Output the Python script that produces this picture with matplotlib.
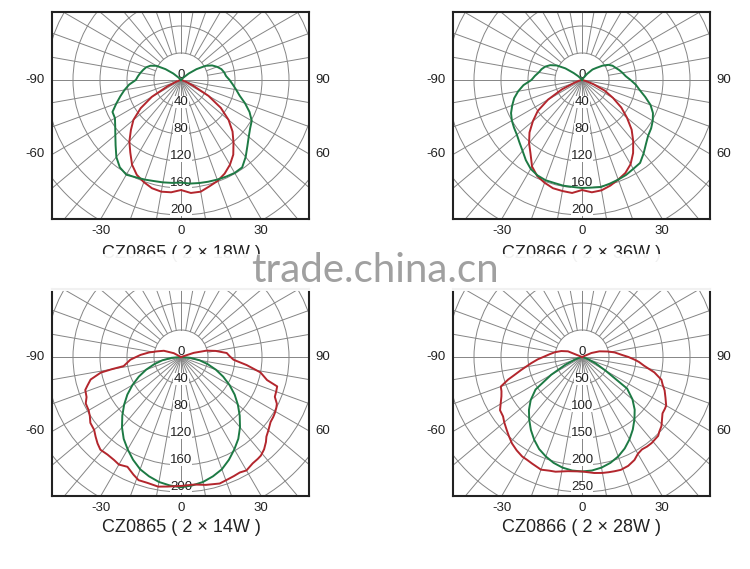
import numpy as np
import matplotlib
matplotlib.use("Agg")
import matplotlib.pyplot as plt
from matplotlib.patches import Circle, Rectangle

plt.rcParams['font.family'] = ['Liberation Sans', 'Noto Sans CJK SC', 'DejaVu Sans']

W, H = 750, 569

# ---- data (angle from nadir in degrees, intensity in cd) ----
tl_red_ang = [-90, -80, -70, -65, -60, -55, -50, -45, -40, -35, -30, -25, -20, -15, -10, -5, 0,
              5, 10, 15, 20, 25, 30, 35, 40, 45, 50, 55, 60, 65, 70, 80, 90]
tl_red_val = [0, 2, 8, 22, 50, 73, 92, 105, 119, 131, 145, 155, 161, 166, 168, 167, 163,
              168, 168, 163, 159, 153, 145, 135, 121, 108, 92, 72, 47, 20, 9, 2, 0]

tl_green_ang = list(range(-140, 141, 5))
tl_green_val = [0, 5, 15, 28, 42, 50, 55, 58, 61, 64, 67, 77, 85, 93, 102, 112, 113, 119, 127, 137,
                149, 158, 162, 159, 157, 155, 154, 153,
                152,
                154, 155, 156, 157, 158, 159, 158, 149, 139, 131, 125, 121, 112, 101, 90, 83, 77, 72,
                67, 65, 62, 57, 51, 42, 28, 15, 5, 0]

tr_red_ang = list(range(-90, 91, 5))
tr_red_val = [0, 1, 2, 5, 12, 33, 58, 80, 95, 110, 122, 133, 148, 157, 162, 166, 167, 168,
              163,
              167, 166, 162, 157, 152, 144, 132, 118, 104, 87, 71, 53, 37, 18, 6, 2, 1, 0]

tr_green_ang = list(range(-150, 151, 5))
tr_green_val = [0, 0, 3, 8, 16, 30, 43, 52, 58, 62, 65, 70, 75, 87, 96, 104, 110, 116, 120, 123,
                126, 131, 137, 145, 152, 156, 158, 158, 159, 159,
                160,
                160, 161, 159, 157, 155, 152, 150, 142, 134, 128, 125, 121, 116, 108, 97, 87, 80,
                72, 65, 61, 57, 53, 50, 45, 37, 28, 22, 12, 4, 0]

bl_green_ang = list(range(-90, 91, 5))
bl_green_val = [0, 14, 28, 41, 55, 69, 83, 97, 110, 123, 136, 148, 158, 168, 177, 183, 188, 191,
                193,
                191, 188, 183, 177, 168, 158, 148, 136, 123, 110, 97, 83, 69, 55, 41, 28, 14, 0]

bl_red_ang = [-122, -118, -110, -103, -98, -93, -87, -81, -80, -79, -76, -73, -71, -67, -64, -60,
              -57, -54, -50, -47, -44, -41, -37, -33, -30, -26, -22, -19, -15, -10, -6, 0,
              6, 11, 17, 21, 24, 27, 30, 34, 37, 39, 42, 45, 47, 50, 54, 57, 59, 62, 64, 67,
              70, 73, 75, 79, 83, 87, 91, 95, 100, 104, 108, 112]
bl_red_val = [0, 12, 27, 37, 48, 60, 75, 86, 104, 121, 138, 145, 150, 152, 157, 158,
              161, 166, 168, 173, 178, 182, 181, 182, 184, 181, 188, 193, 193, 195, 193, 191,
              190, 193, 196, 194, 193, 192, 194, 190, 189, 188, 184, 178, 173, 169, 164, 163,
              162, 160, 158, 151, 150, 149, 132, 120, 98, 78, 72, 68, 52, 39, 20, 0]

br_green_ang = list(range(-90, 91, 5))
br_green_val = [0, 1, 2, 5, 14, 34, 66, 105, 124, 139, 152, 165, 177, 188, 196, 203, 208, 211,
                212,
                211, 208, 203, 196, 187, 176, 164, 151, 138, 122, 102, 50, 28, 12, 5, 2, 1, 0]

br_red_ang = [-120, -112, -106, -100, -95, -91, -87, -83, -80, -78, -75, -73, -70, -67, -64, -60,
              -57, -53, -50, -46, -43, -39, -35, -31, -28, -25, -20, -16, -13, -7, 0,
              6, 10, 13, 16, 19, 23, 27, 30, 33, 36, 39, 41, 44, 46, 49, 52, 55, 58, 60, 64,
              68, 71, 74, 78, 82, 85, 87, 90, 93, 98, 102, 108, 113, 120]
br_red_val = [0, 28, 40, 51, 60, 69, 82, 95, 106, 115, 130, 143, 160, 162, 166, 174,
              181, 183, 188, 194, 199, 206, 211, 215, 216, 218, 222, 219, 218, 213, 212,
              216, 218, 219, 220, 221, 219, 214, 207, 204, 205, 205, 204, 203, 199, 195, 188,
              182, 181, 180, 172, 165, 158, 153, 137, 116, 106, 98, 86, 74, 61, 49, 34, 19, 0]

ticks_40 = [0, 40, 80, 120, 160, 200]
ticks_50 = [0, 50, 100, 150, 200, 250]
angle_side = [90, 60]
angle_bottom = [-30, 0, 30]

titles = ["CZ0865 ( 2 × 18W )", "CZ0866 ( 2 × 36W )",
          "CZ0865 ( 2 × 14W )", "CZ0866 ( 2 × 28W )"]

RED = '#b3262d'
GREEN = '#1d7a44'
GRID = '#858585'
RING = 27  # pixels between rings

panels = [
    dict(left=52, top=12, step=40, ticks=ticks_40, title=titles[0], ty=253,
         curves=[(tl_red_ang, tl_red_val, RED), (tl_green_ang, tl_green_val, GREEN)]),
    dict(left=453, top=12, step=40, ticks=ticks_40, title=titles[1], ty=253,
         curves=[(tr_red_ang, tr_red_val, RED), (tr_green_ang, tr_green_val, GREEN)]),
    dict(left=52, top=289, step=40, ticks=ticks_40, title=titles[2], ty=527,
         curves=[(bl_green_ang, bl_green_val, GREEN), (bl_red_ang, bl_red_val, RED)]),
    dict(left=453, top=289, step=50, ticks=ticks_50, title=titles[3], ty=527,
         curves=[(br_green_ang, br_green_val, GREEN), (br_red_ang, br_red_val, RED)]),
]

BW, BH = 257, 207
X0, X1, Y0, Y1 = -129, 128, -139, 68

fig = plt.figure(figsize=(W / 100, H / 100), dpi=100)
fig.patch.set_facecolor('white')

for p in panels:
    ax = fig.add_axes([p['left'] / W, 1 - (p['top'] + BH) / H, BW / W, BH / H])
    ax.set_xlim(X0, X1)
    ax.set_ylim(Y0, Y1)
    ax.set_xticks([])
    ax.set_yticks([])
    for s in ax.spines.values():
        s.set_linewidth(1.5)
        s.set_color('#222222')
        s.set_zorder(6)

    # rings
    for k in range(1, 9):
        ax.add_patch(Circle((0, 0), RING * k, fill=False, ec=GRID, lw=0.7, zorder=1))
    # spokes every 10 degrees
    for a in range(-170, 190, 10):
        r0 = 0 if abs(a) <= 90 else RING
        t = np.radians(a)
        ax.plot([r0 * np.sin(t), 400 * np.sin(t)], [-r0 * np.cos(t), -400 * np.cos(t)],
                color=GRID, lw=0.7, zorder=1)

    # radial labels
    for i, tk in enumerate(p['ticks']):
        ax.text(0, -RING * i + 5, str(tk), ha='center', va='center', fontsize=9.5,
                color='#222222', zorder=3,
                bbox=dict(fc='white', ec='none', pad=0.2))

    # curves
    ppu = RING / p['step']
    for ang, val, col in p['curves']:
        t = np.radians(ang)
        v = np.asarray(val, dtype=float) * ppu
        ax.plot(v * np.sin(t), -v * np.cos(t), color=col, lw=1.4, zorder=4)

    # angle labels
    for a in angle_side:
        y = 0 if a == 90 else X0 / np.tan(np.radians(a))
        ax.text(X0 - 7, y, '-%d' % a, ha='right', va='center', fontsize=9.5,
                color='#222222', clip_on=False)
        y = 0 if a == 90 else -X1 / np.tan(np.radians(a))
        ax.text(X1 + 6, y, '%d' % a, ha='left', va='center', fontsize=9.5,
                color='#222222', clip_on=False)
    for a in angle_bottom:
        x = -Y0 * np.tan(np.radians(a))
        ax.text(x, Y0 - 12, '%d' % a, ha='center', va='center', fontsize=9.5,
                color='#222222', clip_on=False)

    fig.text((p['left'] + 129) / W, 1 - p['ty'] / H, p['title'], ha='center', va='center',
             fontsize=13, color='#222222')

# watermark band and text
fig.patches.append(Rectangle((0, 1 - 291 / H), 1, (291 - 254) / H, transform=fig.transFigure,
                             fc='white', ec='none', alpha=0.94, zorder=10))
fig.text(375 / W, 1 - 270 / H, 'trade.china.cn', ha='center', va='center', fontsize=29,
         color='#a0a0a0', family=['Lato', 'Liberation Sans'], zorder=11)

fig.savefig('out.png', dpi=100)
